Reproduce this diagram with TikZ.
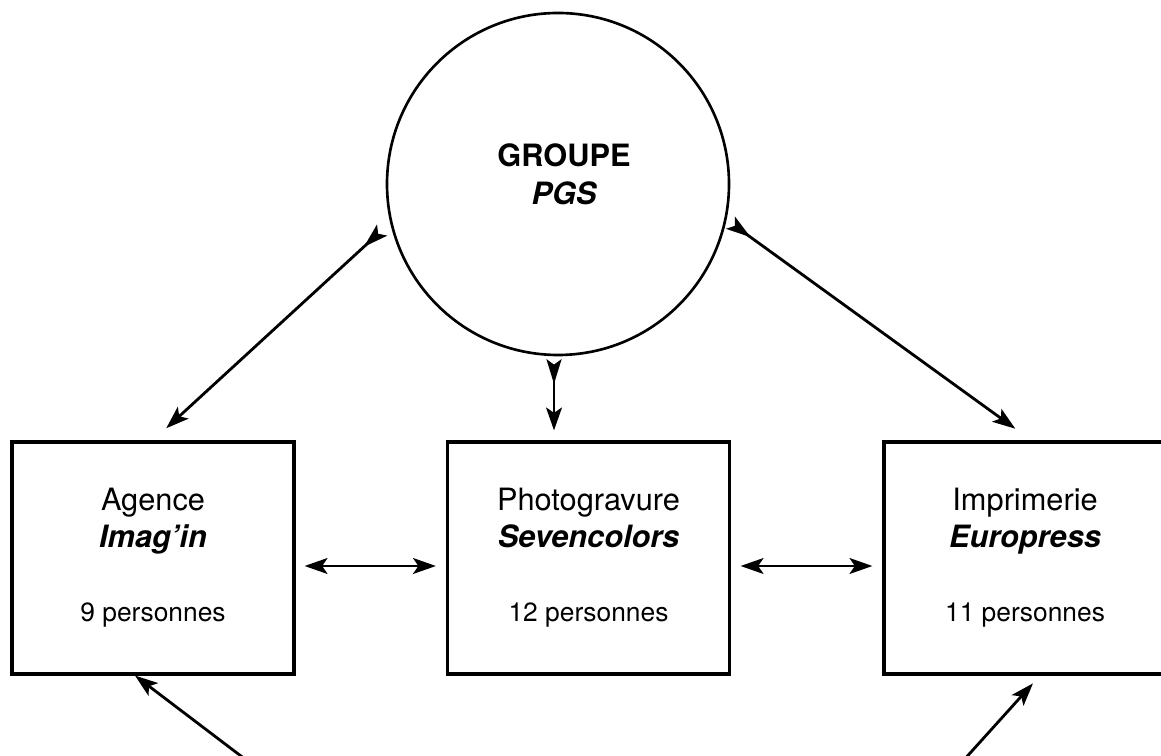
\documentclass[tikz,border=0pt]{standalone}
\usepackage{fontspec}
\setmainfont{TeX Gyre Heros}
\usepackage{tikz}
\usetikzlibrary{positioning, arrows.meta, calc}

\newcommand{\headsize}{\fontsize{17.5}{21}\selectfont}
\newcommand{\staffsize}{\fontsize{15}{18}\selectfont}

\begin{document}
\begin{tikzpicture}[
  >={Stealth[length=13pt, width=9pt, inset=3pt]},
  unit/.style={draw, line width=1.8pt, minimum width=5.64cm, minimum height=4.64cm,
    inner sep=0pt, align=center, font=\headsize},
  hub/.style={draw, circle, line width=1.5pt, minimum size=6.84cm, inner sep=0pt},
  link/.style={->, line width=1.6pt},
  fletch/.style={{Stealth[reversed, length=14pt, width=8.5pt, inset=3pt]}->, line width=1.6pt},
  both/.style={<->, line width=1.6pt}
]
  \useasboundingbox (0,0) rectangle (23.22,15.1);

  % Group circle
  \node[hub] (grp) at (11.16,11.42) {};
  \node[align=center, font=\bfseries\fontsize{17.5}{21.5}\selectfont] (grptxt) at (11.28,11.62) {GROUPE\\{\itshape PGS}};

  % Companies
  \node[unit] (img) at (3.06,3.94) {Agence\\{\bfseries\itshape Imag'in}\\[21pt]{\staffsize 9 personnes}};
  \node[unit] (pgv) at (11.77,3.94) {Photogravure\\{\bfseries\itshape Sevencolors}\\[21pt]{\staffsize 12 personnes}};
  \node[unit] (prt) at (20.5,3.94) {Imprimerie\\{\bfseries\itshape Europress}\\[21pt]{\staffsize 11 personnes}};

  % From the group to the companies
  \draw[fletch, shorten <=0.22cm, shorten >=0.36cm] (grp.193) -- (img.north);
  \draw[fletch, shorten <=0.06cm, shorten >=0.2cm] ([xshift=-0.08cm]grp.south) -- ([xshift=-0.08cm]grp.south |- pgv.north);
  \draw[fletch, shorten <=0.1cm, shorten >=0.4cm] (grp.-12) -- ([xshift=0.13cm]prt.north);

  % Between the companies
  \draw[both, shorten <=0.18cm, shorten >=0.2cm] ([yshift=-0.16cm]img.east) -- ([yshift=-0.16cm]pgv.west);
  \draw[both, shorten <=0.19cm, shorten >=0.2cm] ([yshift=-0.16cm]pgv.east) -- ([yshift=-0.16cm]prt.west);

  % Incoming from below
  \coordinate (inL) at (5.24,-0.34);
  \coordinate (inR) at (19.06,-0.34);
  \draw[link] (inL) -- ([xshift=-0.36cm]img.south);
  \draw[link, shorten >=0.21cm] (inR) -- ([xshift=0.3cm]prt.south);
\end{tikzpicture}
\end{document}
